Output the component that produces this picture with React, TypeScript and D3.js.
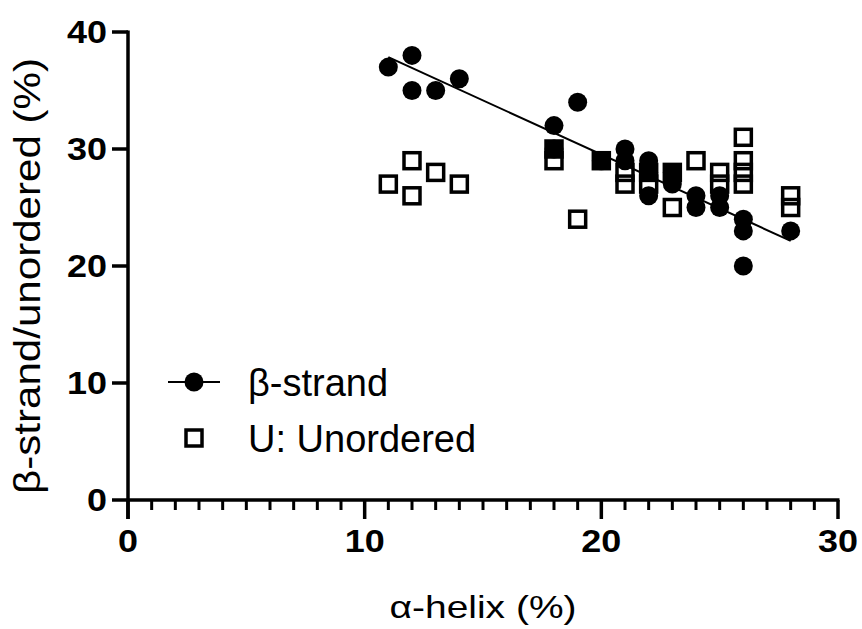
import React from "react";
import * as d3 from "d3";

const strandX = [11, 12, 12, 13, 14, 18, 18, 19, 20, 21, 21, 22, 22, 22, 23, 23, 24, 24, 25, 25, 26, 26, 26, 28];
const strandY = [37, 38, 35, 35, 36, 32, 30, 34, 29, 30, 29, 29, 28, 26, 28, 27, 26, 25, 26, 25, 24, 23, 20, 23];

const unordX = [11, 12, 12, 13, 14, 18, 18, 19, 20, 21, 21, 22, 22, 23, 23, 24, 25, 25, 26, 26, 26, 26, 28, 28];
const unordY = [27, 29, 26, 28, 27, 30, 29, 24, 29, 28, 27, 28, 27, 28, 25, 29, 28, 27, 31, 29, 28, 27, 26, 25];

const xTicks = [0, 10, 20, 30];
const yTicks = [0, 10, 20, 30, 40];

const width = 862;
const height = 629;
const margin = { top: 32, right: 24, bottom: 129, left: 128 };

function fit(xs: number[], ys: number[]) {
  const mx = d3.mean(xs)!;
  const my = d3.mean(ys)!;
  let num = 0;
  let den = 0;
  xs.forEach((x, i) => {
    num += (x - mx) * (ys[i] - my);
    den += (x - mx) * (x - mx);
  });
  const slope = num / den;
  return { slope, intercept: my - slope * mx };
}

export default function App() {
  const x = d3.scaleLinear().domain([0, 30]).range([margin.left, width - margin.right]);
  const y = d3.scaleLinear().domain([0, 40]).range([height - margin.bottom, margin.top]);
  const reg = fit(strandX, strandY);
  const x0 = d3.min(strandX)!;
  const x1 = d3.max(strandX)!;
  const minor = d3.range(0, 31, 1).filter((v) => v % 10 !== 0);
  const font = "'Liberation Sans', Arial, sans-serif";
  const r = 9.5;
  const s = 16;
  const tickLen = (t: number) => (String(t).length > 1 ? 40 : 20);

  return (
    <svg width={width} height={height} style={{ position: "absolute", left: 0, top: 0, background: "#fff" }} fontFamily={font}>
      {/* axes */}
      <line x1={x(0)} x2={x(30) + 1.5} y1={y(0)} y2={y(0)} stroke="#000" strokeWidth={3.5} />
      <line x1={x(0)} x2={x(0)} y1={y(0) + 19} y2={y(40) - 1.5} stroke="#000" strokeWidth={3.5} />
      {yTicks.map((t) => (
        <g key={"y" + t}>
          <line x1={x(0) - 16} x2={x(0)} y1={y(t)} y2={y(t)} stroke="#000" strokeWidth={3.5} />
          <text
            x={x(0) - 21}
            y={y(t)}
            dy="0.36em"
            textAnchor="end"
            fontSize={31}
            fontWeight="bold"
            textLength={tickLen(t)}
            lengthAdjust="spacingAndGlyphs"
          >
            {t}
          </text>
        </g>
      ))}
      {xTicks.map((t) => (
        <g key={"x" + t}>
          <line x1={x(t)} x2={x(t)} y1={y(0)} y2={y(0) + 19} stroke="#000" strokeWidth={3.5} />
          <text
            x={x(t)}
            y={y(0) + 52}
            textAnchor="middle"
            fontSize={31}
            fontWeight="bold"
            textLength={tickLen(t)}
            lengthAdjust="spacingAndGlyphs"
          >
            {t}
          </text>
        </g>
      ))}
      {minor.map((t) => (
        <line key={"m" + t} x1={x(t)} x2={x(t)} y1={y(0)} y2={y(0) + 10} stroke="#000" strokeWidth={3} />
      ))}
      <text x={x(15)} y={618} textAnchor="middle" fontSize={32} textLength={187} lengthAdjust="spacingAndGlyphs">
        α-helix (%)
      </text>
      <text
        transform={`translate(40,${y(20) + 10}) rotate(-90)`}
        textAnchor="middle"
        fontSize={36}
        textLength={436}
        lengthAdjust="spacingAndGlyphs"
      >
        β-strand/unordered (%)
      </text>

      {/* trend line */}
      <line
        x1={x(x0)}
        x2={x(x1)}
        y1={y(reg.intercept + reg.slope * x0)}
        y2={y(reg.intercept + reg.slope * x1)}
        stroke="#000"
        strokeWidth={2}
      />

      {/* unordered squares */}
      {unordX.map((v, i) => (
        <rect
          key={"u" + i}
          x={x(v) - s / 2}
          y={y(unordY[i]) - s / 2}
          width={s}
          height={s}
          fill="none"
          stroke="#000"
          strokeWidth={3.5}
        />
      ))}
      {/* beta-strand circles */}
      {strandX.map((v, i) => (
        <circle key={"b" + i} cx={x(v)} cy={y(strandY[i])} r={r} fill="#000" />
      ))}

      {/* legend */}
      <line x1={168} x2={220} y1={382} y2={382} stroke="#000" strokeWidth={2} />
      <circle cx={194} cy={382} r={r} fill="#000" />
      <text x={248} y={382} dy="0.36em" fontSize={38}>
        β-strand
      </text>
      <rect x={194 - s / 2} y={438 - s / 2} width={s} height={s} fill="none" stroke="#000" strokeWidth={3.5} />
      <text x={248} y={438} dy="0.36em" fontSize={38}>
        U: Unordered
      </text>
    </svg>
  );
}
